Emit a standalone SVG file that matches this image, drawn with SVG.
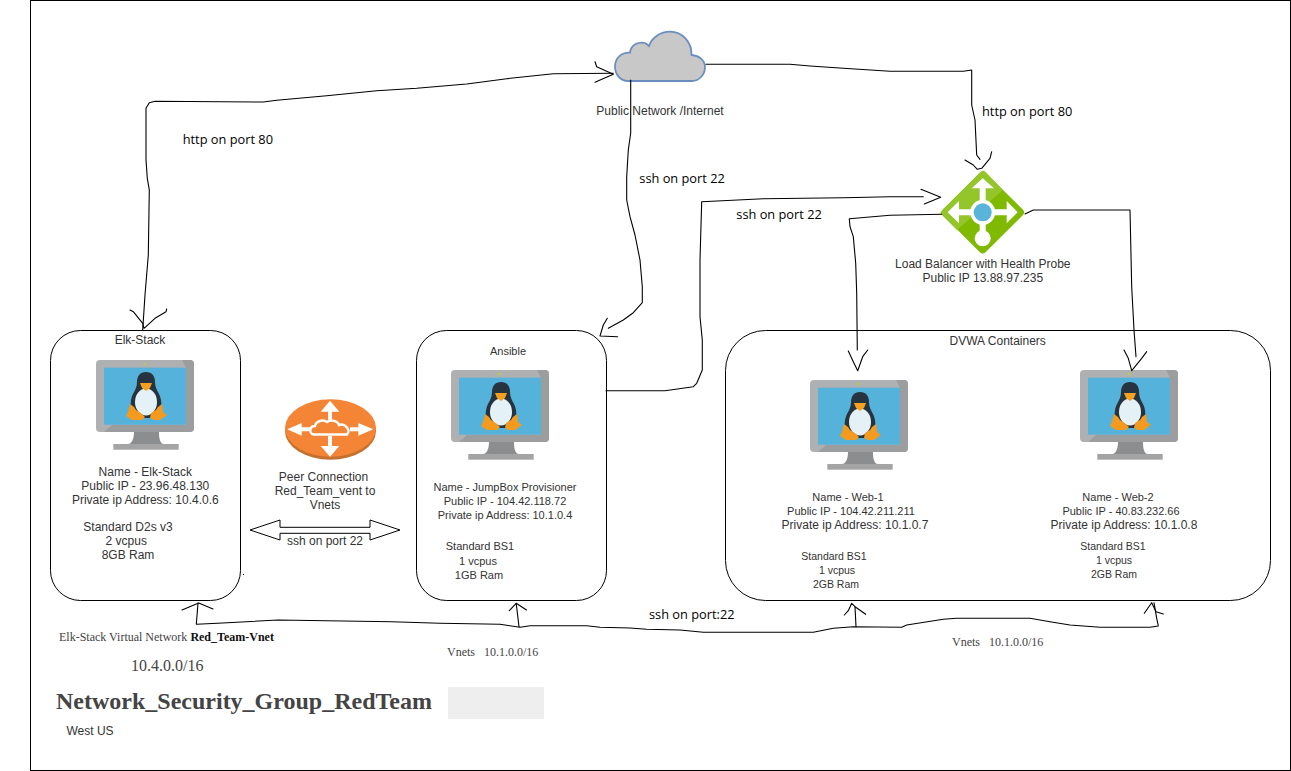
<svg xmlns="http://www.w3.org/2000/svg" width="1291" height="771" viewBox="0 0 1291 771">
<style>
.t{font:12px "Liberation Sans",Arial,sans-serif;fill:#333;text-anchor:middle}
.n{font-size:11px}
.m{font-size:10.5px}
.h{font:12.8px "Open Sans","Noto Sans",sans-serif;fill:#000}
.s{font-family:"Liberation Serif","Times New Roman",serif;fill:#444;white-space:pre}
.box{fill:#fff;stroke:#000;stroke-width:1}
.c{fill:none;stroke:#000;stroke-width:1.1;stroke-linejoin:round;stroke-linecap:round}
</style>
<defs>
<g id="vm">
<rect x="0" y="0" width="98" height="72" rx="4" fill="#aeb0b2"/>
<path d="M86 0H94A4 4 0 0 1 98 4V68A4 4 0 0 1 94 72H8L16 65H90V8Z" fill="#9c9d9f"/>
<rect x="8" y="7.700" width="82" height="57" fill="#55b2db"/>
<path d="M38 72H63C63 78 64 84 68 84H32C36 84 38 78 38 72Z" fill="#8c8d8f"/>
<rect x="17.300" y="84" width="65.400" height="5.700" fill="#a4a4a4"/>
<circle cx="48.500" cy="4" r="1.200" fill="#b8d432"/>
<path d="M50 12C44 12 41 16 41 22C41 27 39 30 37 34C34 40 34 48 36 54L38 58H62L64 54C66 48 66 40 63 34C61 30 59 27 59 22C59 16 56 12 50 12Z" fill="#27343f"/>
<ellipse cx="50" cy="42" rx="11" ry="13.500" fill="#e4f1f7"/>
<path d="M44 23L56 23L54 28L50 31L46 28Z" fill="#f4a021"/>
<path d="M34 44L38 47L40 50L46 54L49 57L46 60L36 60L30 56L32 52Z" fill="#f39a1f"/>
<path d="M66 44L62 47L60 50L55 53L54 58L58 60L64 60L71 55L67 52Z" fill="#f39a1f"/>
</g>
</defs>
<rect id="frame" x="30.500" y="0.500" width="1260" height="770" fill="#fff" stroke="#000" stroke-width="1"/>

<g id="elk-stack">
<rect class="box" x="50.500" y="330.500" width="190" height="270" rx="30"/>
<text class="t" x="140" y="344">Elk-Stack</text>
<use href="#vm" x="96" y="360"/>
<text class="t" x="145.300" y="476">Name - Elk-Stack</text>
<text class="t" x="145.300" y="490">Public IP - 23.96.48.130</text>
<text class="t" x="145.300" y="504">Private ip Address: 10.4.0.6</text>
<text class="t" x="128" y="531">Standard D2s v3</text>
<text class="t" x="126.300" y="545">2 vcpus</text>
<text class="t" x="128" y="559">8GB Ram</text>
</g>

<g id="ansible">
<rect class="box" x="416.500" y="330.500" width="190" height="270" rx="30"/>
<text class="t n" x="508" y="355">Ansible</text>
<use href="#vm" x="451" y="370"/>
<text class="t n" x="505" y="491">Name - JumpBox Provisioner</text>
<text class="t n" x="505" y="505">Public IP - 104.42.118.72</text>
<text class="t n" x="505" y="519">Private ip Address: 10.1.0.4</text>
<text class="t n" x="480" y="550">Standard BS1</text>
<text class="t n" x="478" y="565">1 vcpus</text>
<text class="t n" x="479" y="579">1GB Ram</text>
</g>

<g id="dvwa-containers">
<rect class="box" x="725.500" y="330.500" width="545" height="270" rx="40"/>
<text class="t" x="997.700" y="345">DVWA Containers</text>
</g>

<g id="web-1">
<use href="#vm" x="810" y="380"/>
<text class="t n" x="848" y="501">Name - Web-1</text>
<text class="t n" x="851" y="515">Public IP - 104.42.211.211</text>
<text class="t" x="855" y="529">Private ip Address: 10.1.0.7</text>
<text class="t m" x="834" y="560">Standard BS1</text>
<text class="t m" x="837" y="574">1 vcpus</text>
<text class="t m" x="836" y="588">2GB Ram</text>
</g>

<g id="web-2">
<use href="#vm" x="1080" y="370"/>
<text class="t n" x="1118" y="501">Name - Web-2</text>
<text class="t n" x="1121" y="515">Public IP - 40.83.232.66</text>
<text class="t" x="1124" y="529">Private ip Address: 10.1.0.8</text>
<text class="t m" x="1113" y="550">Standard BS1</text>
<text class="t m" x="1114" y="564">1 vcpus</text>
<text class="t m" x="1114" y="578">2GB Ram</text>
</g>

<g id="internet">
<path d="M628 81C620 81 615 74 615 66.500C615 58 622 52 630 52.700C631 44 639 41.500 645 43C647 44 648 45 649 46C652 37 661 31.700 670 31.700C682 31.700 692 42 691.500 55C699 55.500 705 60 705 67C705 75 699 81 692 81Z" fill="#c8c8c8" stroke="#6c8ebf" stroke-width="1.800"/>
<text class="t" x="660" y="115">Public Network /Internet</text>
</g>

<g id="load-balancer">
<path d="M982.700 175.700L1020 212.300L982.700 249.300L945.700 212.300Z" fill="#7fba00" stroke="#7fba00" stroke-width="8" stroke-linejoin="round"/>
<path d="M980 172.500L942 210.500C940 212.300 940 213.500 942 215L957 230L1003 190L986 172.500C984.500 170 982 170 980 172.500Z" fill="#94c52a"/>
<path d="M982.700 178.300L994 188.300H985.700V209.300H1006.700V201L1017.700 212.300L1006.700 223.300V215.300H985.700V232H979.700V215.300H959V223.300L947.700 212.300L959 201V209.300H979.700V188.300H971.700Z" fill="#fff"/>
<circle cx="982.700" cy="212.300" r="12.500" fill="#fff"/>
<circle cx="982.700" cy="212.300" r="9" fill="#59b4d9"/>
<circle cx="982.700" cy="238.300" r="8" fill="#fff"/>
<text class="t" x="982.800" y="268">Load Balancer with Health Probe</text>
<text class="t" x="982.800" y="282">Public IP 13.88.97.235</text>
</g>

<g id="peer-connection">
<ellipse cx="330.500" cy="431" rx="45.500" ry="28.700" fill="#c4702e"/>
<ellipse cx="330.500" cy="428" rx="45.500" ry="28.700" fill="#f58536"/>
<path d="M330 400.700L339.300 411.700H332V420H328V411.700H320.700ZM330 456.700L339.300 446H332V436H328V446H320.700ZM287.300 429.300L301.700 423V427.300H311V431.300H301.700V435.700ZM373.300 429.300L358.300 423V427.300H350V431.300H358.300V435.700Z" fill="#fff"/>
<path d="M314 434.500C309 434 309 426 315 426C316 421 323 419 327 422C331 419 338 421 339 425C345 423 351 430 347 434.500Z" fill="#f58536" stroke="#fff" stroke-width="2.400"/>
<text class="t" x="323.500" y="481">Peer Connection</text>
<text class="t" x="325" y="495">Red_Team_vent to</text>
<text class="t" x="325" y="509">Vnets</text>
<path d="M250 530L280 520V527.300H370V520L400 530L370 540V533.300H280V540Z" fill="#fff" stroke="#000" stroke-width="1"/>
<text class="t" x="325" y="545">ssh on port 22</text>
</g>

<g id="connectors">
<polyline class="c" points="142.700,330 145,295 148.300,255 149.300,190 147.300,178.300 146,160 146,108.300 149.300,102.700 155,101.300 221.700,101.700 263.300,102 276.700,100.300 326.700,95.700 376.700,90.700 416.700,88.300 466.700,84 506.700,78.700 553.300,73.700 613.300,73.300"/>
<polyline class="c" points="595,61.700 596.700,66.700 613.300,74.300 595,82.300"/>
<polyline class="c" points="130,310 133.300,311.700 142.700,323.300 144,328.300 155,318.300 166,311.700 166.700,309"/>
<polyline class="c" points="630.700,80 630.700,133 628.300,150 626.700,176.700 626.700,200 630,216.700 635,235 640,260 642.300,286.700 642.300,302.700 633.300,312.700 623.300,320 608.300,328.300"/>
<polyline class="c" points="607.300,318.300 603.300,325 600,336 617.700,336.700"/>
<polyline class="c" points="606,390.700 665,390.700 693.300,386.700 696.700,383.300 702.300,370 702.300,340 700,316.700 700,260 701.700,201.700 763.300,198.700 843.300,197.700 890,196.700 923.300,196.700"/>
<polyline class="c" points="921,189.300 940.700,197.300 924.300,204"/>
<polyline class="c" points="941.700,214.300 890,215.300 849.300,218.700 850,226.700 853.300,236.700 855.700,263.300 856.700,293.300 857.300,350"/>
<polyline class="c" points="848.300,351 853.300,361.700 857.700,370.700 862.700,356.700 867.700,350"/>
<polyline class="c" points="1025,214 1033.300,210 1130,210 1131.700,286.700 1134,330 1136,356.700"/>
<polyline class="c" points="1124,350 1128.300,358.300 1131.700,370.700 1141.700,358.300 1146.700,351.700"/>
<polyline class="c" points="706,64.300 790,64.300 810,66 843.300,68.300 890,71.300 963.300,71.300 971.700,70 971.700,105 975,120 976.700,155 980,159.300"/>
<polyline class="c" points="965,160 973.300,165 977.300,169.300 981.700,168.300 990,158.300 991.700,151.700"/>
<polyline class="c" points="198,603 196.300,624.300 217.700,623.300 278,620 391.600,621.700 439.800,623.300 500,624.300 520,627.300 530,625.700 586.700,625.700 600,627.300 630,628 646.700,629.300 680,630 703.300,632.300 813.300,632.300 833.300,628.300 853.300,626.700 901.700,627.300 906.700,625 943.300,619.300 956.700,618.300 1030,618.300 1050,621.700 1070,625 1100,627.300 1150,627.300 1158.300,626 1156.700,618.300 1154,602.700"/>
<polyline class="c" points="182,610 198.700,603 213,609"/>
<polyline class="c" points="516.200,603.300 519,626.700"/>
<polyline class="c" points="509.300,610.700 516.200,603.300 526.500,610"/>
<polyline class="c" points="856,626.700 855,606.700"/>
<polyline class="c" points="844.300,615 848.300,610.700 851.700,603.300 855,606.700 865.700,614.300"/>
<polyline class="c" points="1144.300,613.300 1151.700,602.700 1156,611.700 1163.300,614"/>
</g>
<rect x="243" y="574" width="1" height="1" fill="#000"/>

<g id="connector-labels">
<text class="h" x="182.700" y="144">http on port 80</text>
<text class="h" x="639.300" y="182.700">ssh on port 22</text>
<text class="h" x="736.300" y="218.700">ssh on port 22</text>
<text class="h" x="982" y="116">http on port 80</text>
<text class="h" x="649" y="619">ssh on port:22</text>
</g>

<g id="network-notes">
<text class="s" x="59" y="640.700" font-size="12">Elk-Stack Virtual Network <tspan font-weight="bold" fill="#111">Red_Team-Vnet</tspan></text>
<text class="s" x="131" y="670.700" font-size="16">10.4.0.0/16</text>
<text class="s" x="447" y="656" font-size="12">Vnets   10.1.0.0/16</text>
<text class="s" x="952" y="646" font-size="12">Vnets   10.1.0.0/16</text>
<text class="s" x="56" y="709" font-size="24" font-weight="bold" fill="#333">Network_Security_Group_RedTeam</text>
<rect x="448" y="687" width="96" height="32" fill="#eee"/>
<text x="66.500" y="735" font-size="12" font-family="Liberation Sans, Arial, sans-serif" fill="#333">West US</text>
</g>
</svg>
